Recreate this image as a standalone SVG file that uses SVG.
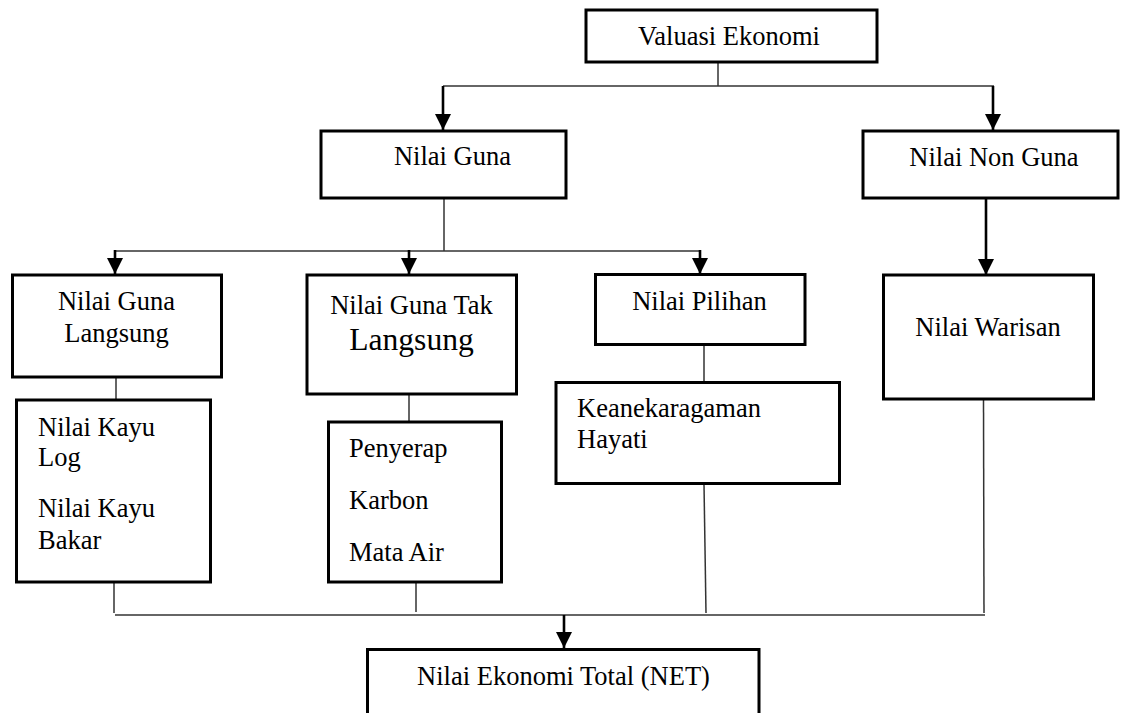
<svg xmlns="http://www.w3.org/2000/svg" width="1121" height="713" viewBox="0 0 1121 713">
<defs>
<style>
.box{fill:#fff;stroke:#000;stroke-width:3}
.t{font-family:'Liberation Serif','Times New Roman',serif;font-size:26.5px;fill:#000}
.c{text-anchor:middle}
.thin{fill:none;stroke:#333;stroke-width:1.5}
.arr{fill:none;stroke:#000;stroke-width:2.6;marker-end:url(#ah)}
</style>
<marker id="ah" markerUnits="userSpaceOnUse" markerWidth="16" markerHeight="16" refX="15" refY="7.5" orient="auto" viewBox="0 0 15 15">
<path d="M0,0 L15,7.5 L0,15 z" fill="#000"/>
</marker>
</defs>
<rect width="1121" height="713" fill="#fff"/>
<g id="connectors">
<line class="thin" x1="718" y1="62" x2="718" y2="86"/>
<line class="thin" x1="443" y1="86" x2="994" y2="86"/>
<line class="arr" x1="443" y1="86" x2="443" y2="130"/>
<line class="arr" x1="993" y1="86" x2="993" y2="130"/>
<line class="thin" x1="444" y1="198" x2="444" y2="251"/>
<line class="thin" x1="115" y1="251" x2="700" y2="251"/>
<line class="arr" x1="115" y1="250" x2="115" y2="274"/>
<line class="arr" x1="409" y1="250" x2="409" y2="274"/>
<line class="arr" x1="700" y1="250" x2="700" y2="274"/>
<line class="arr" x1="986" y1="198" x2="986" y2="275"/>
<line class="thin" x1="116" y1="377" x2="116" y2="400"/>
<line class="thin" x1="409" y1="394" x2="409" y2="422"/>
<line class="thin" x1="704" y1="344" x2="704" y2="382"/>
<line class="thin" x1="114" y1="582" x2="114" y2="613"/>
<line class="thin" x1="416" y1="582" x2="416" y2="612"/>
<line class="thin" x1="704" y1="484" x2="706" y2="613"/>
<line class="thin" x1="983.5" y1="399" x2="984" y2="613"/>
<line class="thin" x1="115" y1="615" x2="985" y2="615"/>
<line class="arr" x1="564" y1="615" x2="564" y2="648"/>
</g>
<g id="valuasi">
<rect class="box" x="586" y="10" width="291" height="52"/>
<text class="t c" x="729" y="45">Valuasi Ekonomi</text>
</g>
<g id="nilai-guna">
<rect class="box" x="321" y="131" width="245" height="67"/>
<text class="t c" x="452.5" y="165">Nilai Guna</text>
</g>
<g id="nilai-non-guna">
<rect class="box" x="863" y="131" width="255" height="67"/>
<text class="t c" x="994" y="165.5">Nilai Non Guna</text>
</g>
<g id="guna-langsung">
<rect class="box" x="12.5" y="275" width="209" height="102"/>
<text class="t c" x="116.5" y="309.5">Nilai Guna</text>
<text class="t c" x="116.5" y="341.5">Langsung</text>
</g>
<g id="guna-tak-langsung">
<rect class="box" x="307" y="275" width="209.5" height="119"/>
<text class="t c" x="411.5" y="313.5">Nilai Guna Tak</text>
<text class="t c" x="411.5" y="350" style="font-size:31.6px">Langsung</text>
</g>
<g id="nilai-pilihan">
<rect class="box" x="595.5" y="274.5" width="209.5" height="70"/>
<text class="t c" x="699.5" y="310">Nilai Pilihan</text>
</g>
<g id="nilai-warisan">
<rect class="box" x="883.5" y="275" width="210" height="124"/>
<text class="t c" x="988" y="336">Nilai Warisan</text>
</g>
<g id="kayu">
<rect class="box" x="16.5" y="400" width="194" height="182"/>
<text class="t" x="38" y="436">Nilai Kayu</text>
<text class="t" x="38" y="466">Log</text>
<text class="t" x="38" y="516.5">Nilai Kayu</text>
<text class="t" x="38" y="549">Bakar</text>
</g>
<g id="penyerap">
<rect class="box" x="328.5" y="422" width="173" height="160"/>
<text class="t" x="349" y="456.5">Penyerap</text>
<text class="t" x="349" y="508.5">Karbon</text>
<text class="t" x="349" y="561">Mata Air</text>
</g>
<g id="keanekaragaman">
<rect class="box" x="556" y="382.5" width="283.5" height="101"/>
<text class="t" x="577" y="416.5">Keanekaragaman</text>
<text class="t" x="577" y="447.5">Hayati</text>
</g>
<g id="net">
<path class="box" d="M367.5,720 V649.5 H759 V720"/>
<text class="t c" x="563.5" y="684.5">Nilai Ekonomi Total (NET)</text>
</g>
</svg>
